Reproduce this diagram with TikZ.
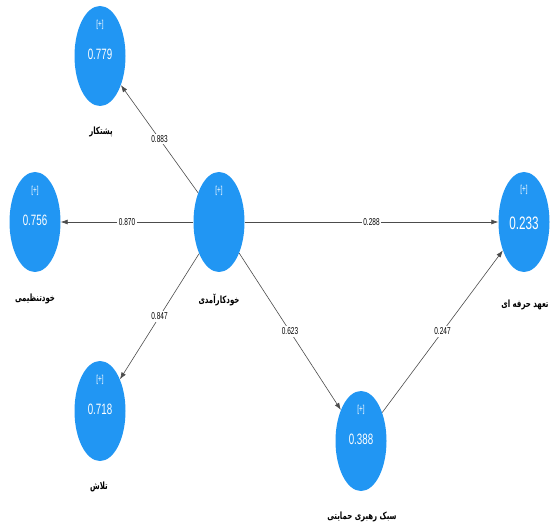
\documentclass[tikz,border=0pt]{standalone}
\usepackage{fontspec}
\setmainfont{Liberation Sans}
\newfontfamily\cond[FakeStretch=0.65]{Liberation Sans}
\newfontfamily\fa[Script=Arabic,FakeStretch=0.7]{DejaVu Sans}
\TeXXeTstate=1
\usetikzlibrary{shapes.geometric,arrows.meta,calc}
\definecolor{lvblue}{RGB}{33,150,243}
\begin{document}
\begin{tikzpicture}[x=1pt,y=-1pt,
  lv/.style={ellipse, fill=lvblue, draw=none, minimum width=51pt, minimum height=100pt, inner sep=0pt},
  plus/.style={text=white, font=\cond\fontsize{10}{10}\selectfont, inner sep=0pt},
  val/.style={text=white, font=\cond\fontsize{15}{15}\selectfont, inner sep=0pt},
  bigval/.style={text=white, font=\cond\fontsize{18}{18}\selectfont, inner sep=0pt},
  lvname/.style={font=\fa\bfseries\fontsize{10}{10}\selectfont, inner sep=0pt},
  arr/.style={draw=black!70, line width=0.6pt, -{Latex[length=7pt,width=5pt]}},
  elab/.style={fill=white, inner sep=1.5pt, font=\cond\fontsize{10}{10}\selectfont}
]
\useasboundingbox (0,0) rectangle (556,526);

% latent variables
\node[lv] (top) at (100,56) {};
\node[lv] (left) at (35,222) {};
\node[lv] (bl) at (100,411) {};
\node[lv] (mid) at (219,222) {};
\node[lv] (right) at (524,222) {};
\node[lv] (bm) at (361,441) {};

% inner texts
\node[plus] (topp) at ($(top)+(0,-31)$) {[+]};
\node[val] (topv) at ($(top)+(0,-2)$) {0.779};
\node[plus] (leftp) at ($(left)+(0,-31)$) {[+]};
\node[val] (leftv) at ($(left)+(0,-2)$) {0.756};
\node[plus] (blp) at ($(bl)+(0,-31)$) {[+]};
\node[val] (blv) at ($(bl)+(0,-2)$) {0.718};
\node[plus] (midp) at ($(mid)+(0,-31)$) {[+]};
\node[plus] (rightp) at ($(right)+(0,-32)$) {[+]};
\node[bigval] (rightv) at ($(right)+(0,1)$) {0.233};
\node[plus] (bmp) at ($(bm)+(0,-31)$) {[+]};
\node[val] (bmv) at ($(bm)+(0,-2)$) {0.388};

% names
\node[lvname] (topn) at (101,132) {\beginR پشتکار\endR};
\node[lvname] (leftn) at (35,299) {\beginR خودتنظیمی\endR};
\node[lvname] (midn) at (219,300) {\beginR خودکارآمدی\endR};
\node[lvname] (rightn) at (525,305) {\beginR تعهد حرفه ای\endR};
\node[lvname] (bln) at (99,487) {\beginR تلاش\endR};
\node[lvname] (bmn) at (362,517) {\beginR سبک رهبری حمایتی\endR};

% paths
\draw[arr] (mid) -- node[elab] (e1) {0.883} (top);
\draw[arr] (mid) -- node[elab] (e2) {0.870} (left);
\draw[arr] (mid) -- node[elab] (e3) {0.847} (bl);
\draw[arr] (mid) -- node[elab] (e4) {0.288} (right);
\draw[arr] (mid) -- node[elab] (e5) {0.623} (bm);
\draw[arr] (bm) -- node[elab] (e6) {0.247} (right);
\end{tikzpicture}
\end{document}
